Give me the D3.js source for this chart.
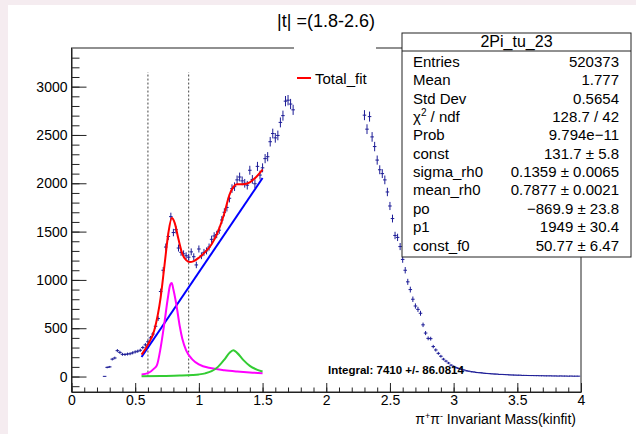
<!DOCTYPE html>
<html>
<head>
<meta charset="utf-8">
<script src="https://cdn.jsdelivr.net/npm/d3@7"></script>
<style>
  html, body { margin: 0; padding: 0; background: #f5ecf0; }
  svg { display: block; font-family: "Liberation Sans", Arial, Helvetica, sans-serif; }
</style>
</head>
<body>
<svg id="chart" width="636" height="434"></svg>
<script>
// histogram bins (width 0.02), two visible segments (the middle is covered by the legend)
const binWidth = 0.02;
const lowStart = 0.26;
const lowCounts = [
  2, 95, 100, 180, 192, 268, 250, 230, 228, 233,
  236, 245, 255, 262, 272, 300, 328, 360, 400, 440,
  520, 600, 880, 1100, 1340, 1450, 1655, 1490, 1520, 1330,
  1285, 1270, 1250, 1235, 1290, 1240, 1155, 1320, 1250, 1285,
  1300, 1340, 1420, 1455, 1470, 1515, 1620, 1700, 1750, 1845,
  1945, 1965, 2035, 2065, 2025, 2000, 1980, 2135, 2040, 1995,
  2175, 2085, 2160, 2255, 2275, 2430, 2515, 2470, 2495, 2630,
  2700, 2850, 2860, 2820, 2760
];
const highStart = 2.30;
const highCounts = [
  2705, 2560, 2690, 2480, 2380, 2240, 2140, 2100, 2035, 1910,
  1765, 1635, 1460, 1440, 1345, 1212, 1100, 980, 900, 800,
  730, 695, 655, 535, 450, 395, 392, 310, 275, 240,
  210, 180, 160, 140, 118, 105, 92, 84, 75, 68,
  60, 55, 50, 47, 42, 40, 38, 34, 32, 30,
  28, 26, 25, 22, 22, 20, 19, 17, 16, 15,
  14, 14, 12, 12, 11, 10, 10, 9, 9, 8,
  8, 7, 7, 7, 6, 6, 5, 6, 5, 5,
  4, 5, 4, 4, 4
];

// fit curves: [mass, value]
const totalFit = [
  [0.55, 227], [0.60, 330], [0.65, 480], [0.70, 820], [0.73, 1150], [0.76, 1480],
  [0.787, 1640], [0.81, 1590], [0.84, 1420], [0.87, 1270], [0.90, 1205], [0.93, 1185],
  [0.96, 1195], [1.00, 1230], [1.05, 1290], [1.10, 1370], [1.15, 1500], [1.20, 1690],
  [1.24, 1880], [1.27, 1960], [1.30, 1990], [1.35, 1990], [1.40, 2010], [1.45, 2065], [1.50, 2141]
];
const rhoCurve = [
  [0.55, 22], [0.60, 35], [0.65, 85], [0.67, 115], [0.70, 300], [0.73, 560], [0.755, 800],
  [0.775, 950], [0.787, 968], [0.80, 900], [0.825, 730], [0.85, 520], [0.87, 390],
  [0.90, 270], [0.95, 175], [1.00, 125], [1.10, 85], [1.20, 65], [1.30, 52], [1.40, 42], [1.50, 35]
];
const f0Curve = [
  [0.55, 3], [0.70, 6], [0.85, 10], [0.95, 16], [1.00, 22], [1.05, 33], [1.10, 55],
  [1.15, 100], [1.20, 175], [1.24, 245], [1.27, 272], [1.30, 245], [1.35, 170],
  [1.40, 110], [1.45, 75], [1.50, 52]
];
const background = [[0.55, 202], [1.50, 2054]];
const cutLines = [0.6, 0.92];

const statsRows = [
  ['Entries', '520373'],
  ['Mean', '1.777'],
  ['Std Dev', '0.5654'],
  ['chi2', '128.7 / 42'],
  ['Prob', '9.794e\u221211'],
  ['const', '131.7 \u00b1 5.8'],
  ['sigma_rh0', '0.1359 \u00b1 0.0065'],
  ['mean_rh0', '0.7877 \u00b1 0.0021'],
  ['po', '\u2212869.9 \u00b1 23.8'],
  ['p1', '1949 \u00b1 30.4'],
  ['const_f0', '50.77 \u00b1 6.47']
];

const xTicks = [0, 0.5, 1, 1.5, 2, 2.5, 3, 3.5, 4];
const yTicks = [0, 500, 1000, 1500, 2000, 2500, 3000];

const svg = d3.select('#chart');

// canvas
svg.append('rect').attr('x', 8).attr('y', 5).attr('width', 628).attr('height', 429).attr('fill', '#fff');

const x = d3.scaleLinear().domain([0, 4]).range([71.5, 581]);
const y = d3.scaleLinear().domain([-160, 3400]).range([392, 48]);

// frame
svg.append('rect')
  .attr('x', 71.5).attr('y', 48).attr('width', 581 - 71.5).attr('height', 392 - 48)
  .attr('fill', 'none').attr('stroke', '#222').attr('stroke-width', 1);

// y axis
svg.append('g')
  .attr('transform', 'translate(71.5,0)')
  .call(d3.axisLeft(y).tickValues(d3.range(-100, 3400, 100)).tickSize(-8).tickSizeOuter(0).tickFormat(''))
  .call(g => g.select('.domain').remove());
svg.append('g')
  .attr('transform', 'translate(71.5,0)')
  .call(d3.axisLeft(y).tickValues(yTicks).tickSize(-15).tickSizeOuter(0).tickPadding(4).tickFormat(d3.format('d')))
  .call(g => g.select('.domain').attr('stroke', '#222'))
  .call(g => g.selectAll('text').attr('font-size', 14).attr('fill', '#000').attr('font-family', 'Liberation Sans, Arial, sans-serif'));

// x axis
svg.append('g')
  .attr('transform', 'translate(0,392)')
  .call(d3.axisBottom(x).tickValues(d3.range(0, 4.01, 0.1)).tickSize(-4.5).tickSizeOuter(0).tickFormat(''))
  .call(g => g.select('.domain').remove());
svg.append('g')
  .attr('transform', 'translate(0,392)')
  .call(d3.axisBottom(x).tickValues(xTicks).tickSize(-9).tickSizeOuter(0).tickPadding(3).tickFormat(d => String(d)))
  .call(g => g.select('.domain').attr('stroke', '#222'))
  .call(g => g.selectAll('text').attr('font-size', 14).attr('fill', '#000').attr('font-family', 'Liberation Sans, Arial, sans-serif'));
svg.selectAll('.tick line').attr('stroke', '#222');

// x axis title
const xt = svg.append('text')
  .attr('x', 576).attr('y', 424).attr('text-anchor', 'end')
  .attr('font-size', 14).attr('fill', '#000');
xt.append('tspan').text('\u03c0');
xt.append('tspan').attr('font-size', 9).attr('dy', -5).text('+');
xt.append('tspan').attr('dy', 5).text('\u03c0');
xt.append('tspan').attr('font-size', 9).attr('dy', -5).text('-');
xt.append('tspan').attr('dy', 5).text(' Invariant Mass(kinfit)');

// dotted cut lines
svg.selectAll('.cut')
  .data(cutLines)
  .enter()
  .append('line')
  .attr('x1', d => x(d)).attr('x2', d => x(d))
  .attr('y1', y(0)).attr('y2', y(3150))
  .attr('stroke', '#444').attr('stroke-width', 1).attr('stroke-dasharray', '2,2');

// histogram points with sqrt(N) errors
const bins = lowCounts.map((c, i) => ({ m: lowStart + i * binWidth, c }))
  .concat(highCounts.map((c, i) => ({ m: highStart + i * binWidth, c })));
const pts = svg.append('g').attr('stroke', '#1c1c96').attr('stroke-width', 1);
pts.selectAll('.ex')
  .data(bins)
  .enter()
  .append('line')
  .attr('x1', d => x(d.m - binWidth / 2) - 0.5).attr('x2', d => x(d.m + binWidth / 2) + 0.5)
  .attr('y1', d => y(d.c)).attr('y2', d => y(d.c));
pts.selectAll('.ey')
  .data(bins)
  .enter()
  .append('line')
  .attr('x1', d => x(d.m)).attr('x2', d => x(d.m))
  .attr('y1', d => y(d.c - Math.sqrt(d.c))).attr('y2', d => y(d.c + Math.sqrt(d.c)));

// fit components
const line = d3.line().x(d => x(d[0])).y(d => y(d[1])).curve(d3.curveMonotoneX);
[[background, '#0000ff'], [rhoCurve, '#ff00ff'], [f0Curve, '#33cc33'], [totalFit, '#ff0000']].forEach(([data, col]) => {
  svg.append('path').datum(data).attr('d', line)
    .attr('fill', 'none').attr('stroke', col).attr('stroke-width', 2);
});

// integral text
svg.append('text')
  .attr('x', 328).attr('y', 374)
  .attr('font-size', 11.5).attr('font-weight', 'bold').attr('fill', '#000')
  .text('Integral: 7410 +/- 86.0814');

// legend (white box without border)
svg.append('rect').attr('x', 294).attr('y', 40).attr('width', 82).attr('height', 62).attr('fill', '#fff');
svg.append('line').attr('x1', 297).attr('x2', 311).attr('y1', 78).attr('y2', 78)
  .attr('stroke', '#ff0000').attr('stroke-width', 2);
svg.append('text').attr('x', 315).attr('y', 83.5).attr('font-size', 15).attr('fill', '#000').text('Total_fit');

// stats box
const sb = svg.append('g');
sb.append('rect').attr('x', 402).attr('y', 33).attr('width', 229).attr('height', 224)
  .attr('fill', '#fff').attr('stroke', '#222').attr('stroke-width', 1);
sb.append('line').attr('x1', 402).attr('x2', 631).attr('y1', 51).attr('y2', 51).attr('stroke', '#222');
sb.append('text').attr('x', 516.5).attr('y', 47).attr('text-anchor', 'middle')
  .attr('font-size', 16).attr('fill', '#000').text('2Pi_tu_23');
statsRows.forEach(([label, val], i) => {
  const yy = 67 + i * 18.35;
  const t = sb.append('text').attr('x', 413).attr('y', yy).attr('font-size', 15).attr('fill', '#000');
  if (label === 'chi2') {
    t.append('tspan').text('\u03c7');
    t.append('tspan').attr('font-size', 10).attr('dy', -6).text('2');
    t.append('tspan').attr('dy', 6).text(' / ndf');
  } else {
    t.text(label);
  }
  sb.append('text').attr('x', 619).attr('y', yy).attr('text-anchor', 'end')
    .attr('font-size', 15).attr('fill', '#000').text(val);
});

// title
svg.append('text').attr('x', 326).attr('y', 27).attr('text-anchor', 'middle')
  .attr('font-size', 18).attr('fill', '#000').text('|t| =(1.8-2.6)');
</script>
</body>
</html>
